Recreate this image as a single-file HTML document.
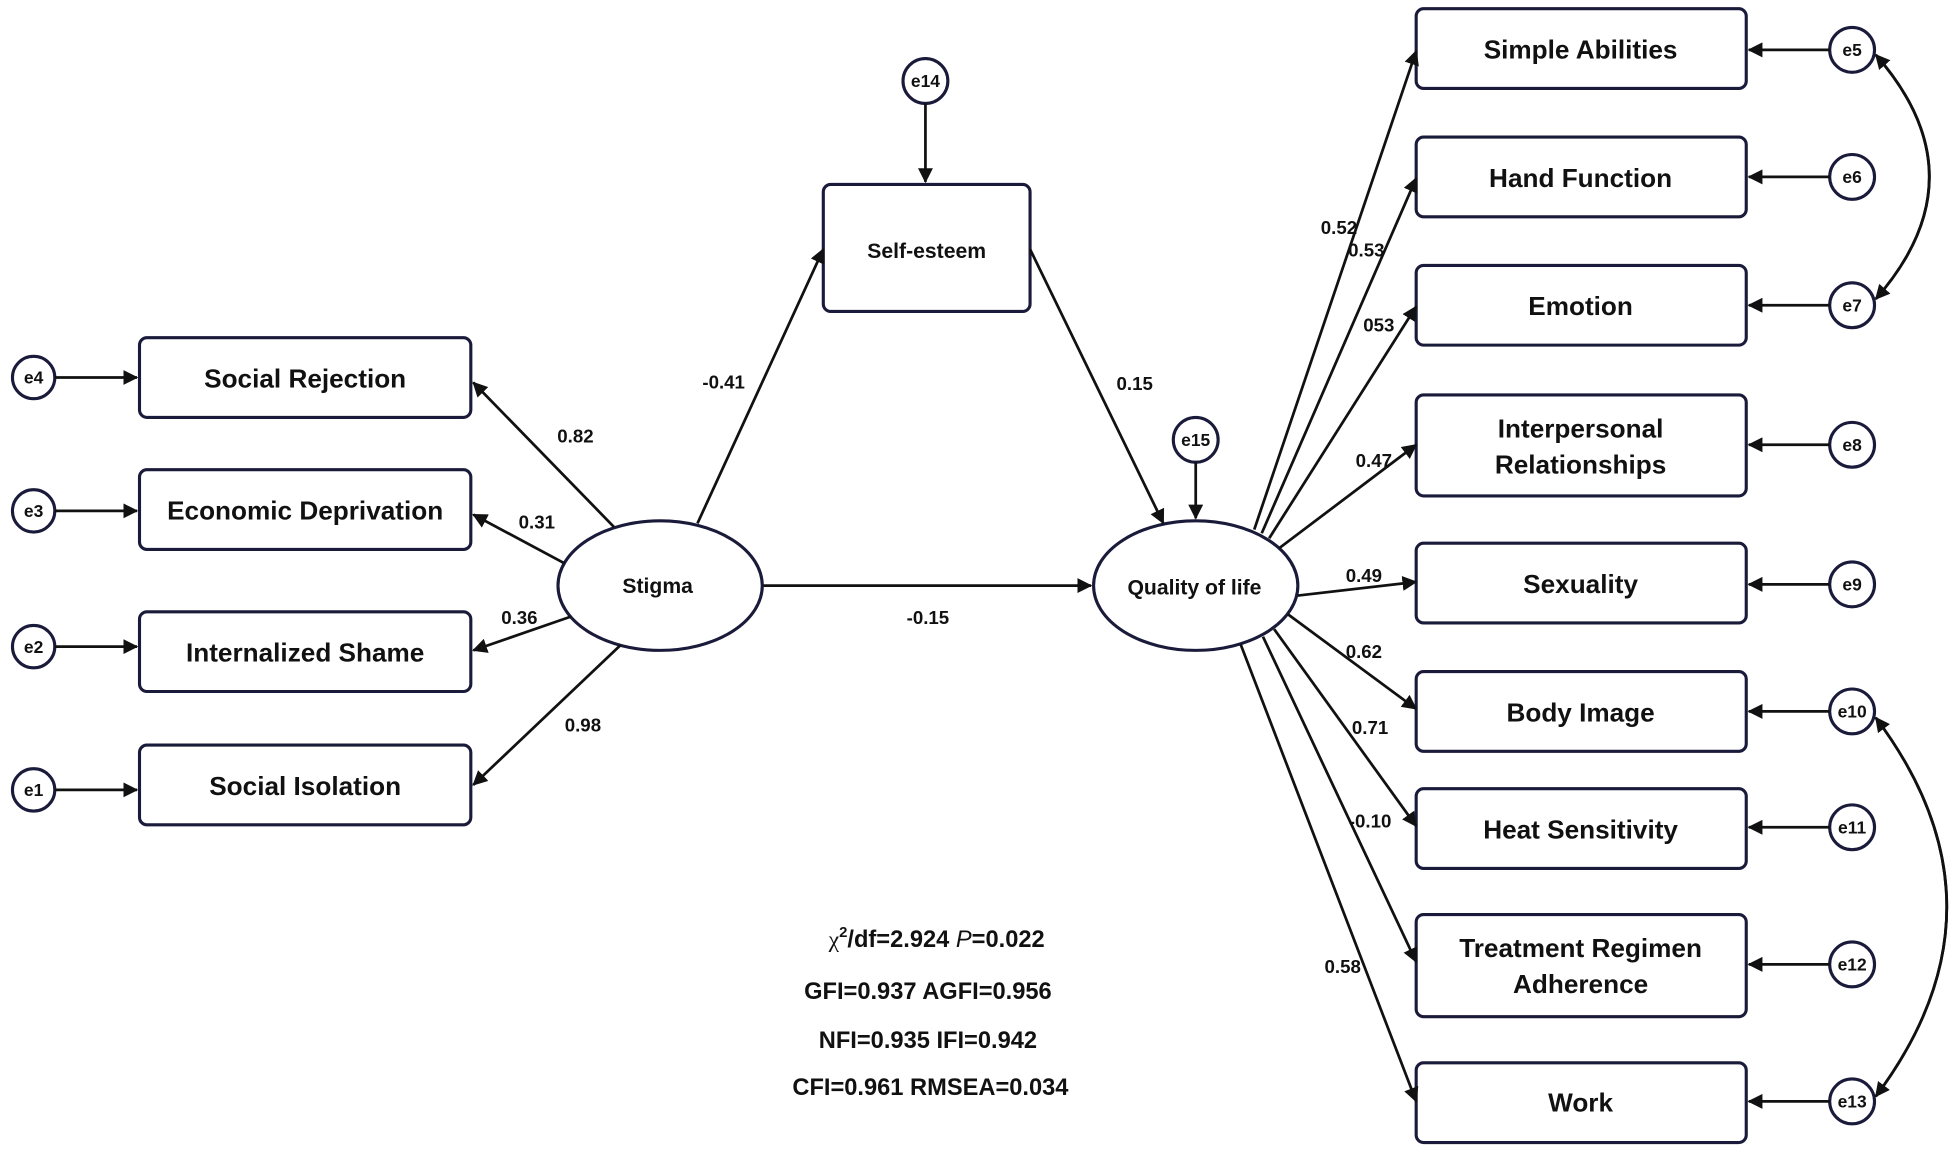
<!DOCTYPE html>
<html><head><meta charset="utf-8"><style>html,body{margin:0;padding:0;background:#fff}svg{display:block}
text{font-family:"Liberation Sans",sans-serif;font-weight:bold;fill:#111}</style></head><body>
<svg width="1953" height="1150" viewBox="0 0 1568 923" preserveAspectRatio="none" xmlns="http://www.w3.org/2000/svg">
<defs><marker id="a" markerWidth="12" markerHeight="12" refX="11" refY="6" orient="auto" markerUnits="userSpaceOnUse"><path d="M0,0 L12,6 L0,12 z" fill="#111"/></marker></defs>
<g fill="none" stroke="#1a1a3a" stroke-width="2.5">
<rect x="112" y="271" width="266" height="64" rx="6"/>
<rect x="112" y="377" width="266" height="64" rx="6"/>
<rect x="112" y="491" width="266" height="64" rx="6"/>
<rect x="112" y="598" width="266" height="64" rx="6"/>
<rect x="661" y="148" width="166" height="102" rx="6"/>
<rect x="1137" y="7" width="265" height="64" rx="6"/>
<rect x="1137" y="110" width="265" height="64" rx="6"/>
<rect x="1137" y="213" width="265" height="64" rx="6"/>
<rect x="1137" y="317" width="265" height="81" rx="6"/>
<rect x="1137" y="436" width="265" height="64" rx="6"/>
<rect x="1137" y="539" width="265" height="64" rx="6"/>
<rect x="1137" y="633" width="265" height="64" rx="6"/>
<rect x="1137" y="734" width="265" height="82" rx="6"/>
<rect x="1137" y="853" width="265" height="64" rx="6"/>
<ellipse cx="530" cy="470" rx="82" ry="52"/>
<ellipse cx="960" cy="470" rx="82" ry="52"/>
<circle cx="27" cy="303" r="17"/><circle cx="27" cy="410" r="17"/><circle cx="27" cy="519" r="17"/><circle cx="27" cy="634" r="17"/>
<circle cx="743" cy="65" r="18"/><circle cx="960" cy="353" r="18"/>
<circle cx="1487" cy="40" r="18"/><circle cx="1487" cy="142" r="18"/><circle cx="1487" cy="245" r="18"/><circle cx="1487" cy="357" r="18"/><circle cx="1487" cy="469" r="18"/><circle cx="1487" cy="571" r="18"/><circle cx="1487" cy="664" r="18"/><circle cx="1487" cy="774" r="18"/><circle cx="1487" cy="884" r="18"/>
</g>
<g stroke="#111" stroke-width="2.2" fill="none" marker-end="url(#a)">
<line x1="44" y1="303" x2="110" y2="303"/><line x1="44" y1="410" x2="110" y2="410"/><line x1="44" y1="519" x2="110" y2="519"/><line x1="44" y1="634" x2="110" y2="634"/>
<line x1="493" y1="423" x2="380" y2="307"/><line x1="453" y1="452" x2="380" y2="413"/><line x1="458" y1="495" x2="380" y2="522"/><line x1="498" y1="518" x2="380" y2="630"/>
<line x1="560" y1="420" x2="661" y2="200"/><line x1="827" y1="200" x2="934" y2="420"/>
<line x1="743" y1="83" x2="743" y2="146"/><line x1="960" y1="371" x2="960" y2="416"/>
<line x1="613" y1="470" x2="876" y2="470"/>
<line x1="1007" y1="425" x2="1137" y2="41"/><line x1="1013" y1="428" x2="1137" y2="143"/><line x1="1019" y1="432" x2="1137" y2="246"/><line x1="1027" y1="440" x2="1137" y2="357"/><line x1="1042" y1="478" x2="1137" y2="467"/><line x1="1034" y1="493" x2="1137" y2="569"/><line x1="1023" y1="505" x2="1137" y2="663"/><line x1="1014" y1="511" x2="1137" y2="772"/><line x1="996" y1="517" x2="1137" y2="884"/>
<line x1="1469" y1="40" x2="1404" y2="40"/><line x1="1469" y1="142" x2="1404" y2="142"/><line x1="1469" y1="245" x2="1404" y2="245"/><line x1="1469" y1="357" x2="1404" y2="357"/><line x1="1469" y1="469" x2="1404" y2="469"/><line x1="1469" y1="571" x2="1404" y2="571"/><line x1="1469" y1="664" x2="1404" y2="664"/><line x1="1469" y1="774" x2="1404" y2="774"/><line x1="1469" y1="884" x2="1404" y2="884"/>
</g>
<g stroke="#111" stroke-width="2.2" fill="none">
<path d="M1506,44 Q1592,142 1506,240" marker-end="url(#a)"/><path d="M1506,240 Q1592,142 1506,44" marker-end="url(#a)"/>
<path d="M1506,576 Q1620,728 1506,880" marker-end="url(#a)"/><path d="M1506,880 Q1620,728 1506,576" marker-end="url(#a)"/>
</g>
<g font-size="21" text-anchor="middle">
<text x="245" y="311">Social Rejection</text><text x="245" y="417">Economic Deprivation</text><text x="245" y="531">Internalized Shame</text><text x="245" y="638">Social Isolation</text>
<text x="1269" y="47">Simple Abilities</text><text x="1269" y="150">Hand Function</text><text x="1269" y="253">Emotion</text>
<text x="1269" y="351">Interpersonal</text><text x="1269" y="380">Relationships</text>
<text x="1269" y="476">Sexuality</text><text x="1269" y="579">Body Image</text><text x="1269" y="673">Heat Sensitivity</text>
<text x="1269" y="768">Treatment Regimen</text><text x="1269" y="797">Adherence</text><text x="1269" y="892">Work</text>
</g>
<g font-size="17" text-anchor="middle">
<text x="744" y="207">Self-esteem</text><text x="528" y="476">Stigma</text><text x="959" y="477">Quality of life</text>
</g>
<g font-size="14" text-anchor="middle">
<text x="27" y="308">e4</text><text x="27" y="415">e3</text><text x="27" y="524">e2</text><text x="27" y="639">e1</text>
<text x="743" y="70">e14</text><text x="960" y="358">e15</text>
<text x="1487" y="45">e5</text><text x="1487" y="147">e6</text><text x="1487" y="250">e7</text><text x="1487" y="362">e8</text><text x="1487" y="474">e9</text><text x="1487" y="576">e10</text><text x="1487" y="669">e11</text><text x="1487" y="779">e12</text><text x="1487" y="889">e13</text>
</g>
<g font-size="15" text-anchor="middle">
<text x="462" y="355">0.82</text><text x="431" y="424">0.31</text><text x="417" y="501">0.36</text><text x="468" y="587">0.98</text>
<text x="581" y="312">-0.41</text><text x="911" y="313">0.15</text><text x="745" y="501">-0.15</text>
<text x="1075" y="188">0.52</text><text x="1097" y="206">0.53</text><text x="1107" y="266">053</text><text x="1103" y="375">0.47</text><text x="1095" y="467">0.49</text><text x="1095" y="528">0.62</text><text x="1100" y="589">0.71</text><text x="1100" y="664">-0.10</text><text x="1078" y="781">0.58</text>
</g>
<g font-size="19" text-anchor="middle" xml:space="preserve">
<text x="752" y="760"><tspan font-family="Liberation Serif" font-weight="normal">χ</tspan><tspan font-size="12" dy="-8">2</tspan><tspan dy="8">/df=2.924   </tspan><tspan font-style="italic" font-weight="normal">P</tspan>=0.022</text>
<text x="745" y="802">GFI=0.937  AGFI=0.956</text>
<text x="745" y="841">NFI=0.935  IFI=0.942</text>
<text x="747" y="879">CFI=0.961  RMSEA=0.034</text>
</g>
</svg>
</body></html>
